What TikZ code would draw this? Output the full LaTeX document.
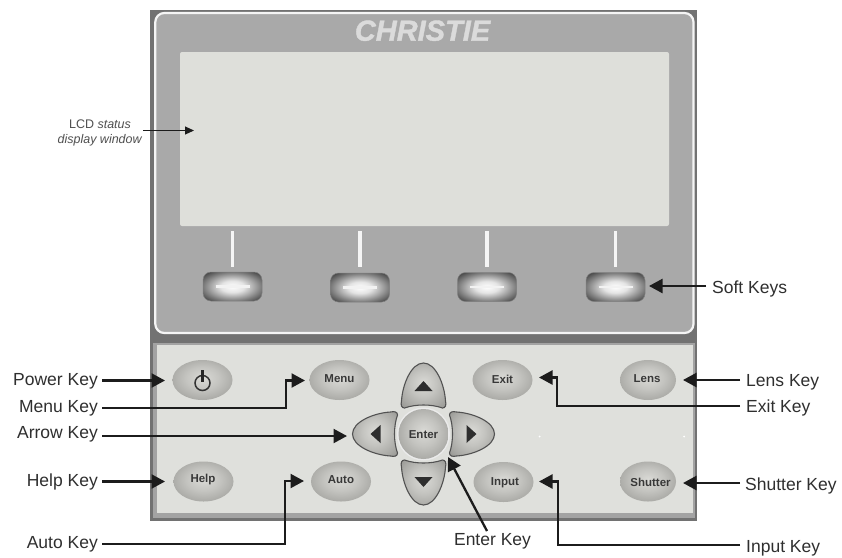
\documentclass[tikz,border=0pt]{standalone}
\usepackage{fontspec}
\setmainfont{Liberation Sans}
\newfontfamily\logofont{Liberation Sans}[BoldItalicFeatures={FakeBold=1.3}]
\usetikzlibrary{arrows.meta,calc}
\definecolor{panelgray}{HTML}{A9A9A9}
\definecolor{framegray}{HTML}{727272}
\definecolor{lcdgray}{HTML}{DEDFDA}
\definecolor{lowgray}{HTML}{DFE0DC}
\definecolor{inkdark}{HTML}{1C1C1C}
\definecolor{textdark}{HTML}{2F2F2F}
\definecolor{textsoft}{HTML}{505050}
\definecolor{ks0}{HTML}{DADAD6}
\definecolor{ks1}{HTML}{C4C4C0}
\definecolor{ks2}{HTML}{A9A9A5}
\definecolor{ks3}{HTML}{8E8E8A}
\definecolor{sk1}{HTML}{E4E4E4}
\definecolor{sk2}{HTML}{808080}
\definecolor{sk3}{HTML}{3A3A3A}
\pgfdeclareradialshading{keyshade}{\pgfpoint{0bp}{3bp}}{%
  color(0bp)=(ks0); color(14bp)=(ks1); color(27bp)=(ks2); color(38bp)=(ks3); color(50bp)=(ks3)}
\pgfdeclareradialshading{softshade}{\pgfpoint{0bp}{0bp}}{%
  color(0bp)=(white); color(10bp)=(sk1); color(24bp)=(sk2); color(34bp)=(sk3); color(50bp)=(sk3)}
\tikzset{
  x=1pt,y=-1pt,
  hwkey/.style={draw=none,shading=keyshade},
  softkey/.style={draw=black!50,line width=.5pt,rounded corners=8pt,shading=softshade},
  whitebar/.style={draw=white!96!black,line width=3.6pt},
  callout/.style={draw=inkdark,line width=2.3pt,-{Triangle[length=13.5pt,width=14pt]},line join=miter},
  thinptr/.style={draw=inkdark,line width=1pt,-{Triangle[length=9pt,width=8pt]}},
  labelL/.style={anchor=base east,inner sep=0pt,text=textdark,font=\fontsize{17.5}{19}\selectfont},
  labelR/.style={anchor=base west,inner sep=0pt,text=textdark,font=\fontsize{17.5}{19}\selectfont},
  keytext/.style={inner sep=0pt,text=black!78,font=\fontsize{11.5}{13}\selectfont\bfseries},
  glyph/.style={fill=black!82,draw=none},
  arrowkey/.style={draw=black!68,line width=1.1pt,shading=keyshade},
}
\newcommand{\arrowkeyshape}[1]{%
  \begin{scope}[shift={(423.5,434)},rotate=#1]
    \path[arrowkey] (-19,-26) .. controls (-8,-30) and (8,-30) .. (19,-26)
      .. controls (22,-26) and (23,-29) .. (22,-33)
      .. controls (21,-50) and (12,-71) .. (0,-71)
      .. controls (-12,-71) and (-21,-50) .. (-22,-33)
      .. controls (-23,-29) and (-22,-26) .. (-19,-26) -- cycle;
    \fill[glyph] (-9,-43) -- (9,-43) -- (0,-53) -- cycle;
  \end{scope}}
\begin{document}
\begin{tikzpicture}
\useasboundingbox (0,0) rectangle (842,557);
\fill[white] (0,0) rectangle (842,557);
% housing
\fill[framegray] (150,10) rectangle (697,345);
\filldraw[fill=panelgray,draw=white!96!black,line width=2.2pt,rounded corners=9pt] (155.3,13) rectangle (693.5,333);
\fill[framegray] (150,340) rectangle (697,521);
\fill[black!36] (153,343) rectangle (695,518);
\fill[lowgray] (157,345) rectangle (693,513);
% logo
\node[inner sep=0pt,text=white!86!black,font=\fontsize{29}{30}\logofont\selectfont\bfseries\itshape] (logo) at (422.5,30.7) {CHRISTIE};
% LCD
\fill[lcdgray,rounded corners=2pt] (180,52) rectangle (669,226);
% soft keys
\foreach \i/\cx/\cy in {1/232.5/286.5,2/360/287.5,3/487/287,4/615.5/287}{
  \draw[whitebar] (\cx,231) -- (\cx,267);
  \path[softkey] (\cx-29.5,\cy-14.5) rectangle (\cx+29.5,\cy+14.5);
  \draw[white!95!black,line width=2.6pt] (\cx-17,\cy) -- (\cx+17,\cy);
}
% hardware keys
\path[hwkey] (202.5,380) ellipse [x radius=30,y radius=20];
\path[hwkey] (339.5,380) ellipse [x radius=30,y radius=20];
\path[hwkey] (502.5,380) ellipse [x radius=30,y radius=20];
\path[hwkey] (648,380) ellipse [x radius=28,y radius=20];
\path[hwkey] (203.5,481.5) ellipse [x radius=30,y radius=20];
\path[hwkey] (341,481.5) ellipse [x radius=30,y radius=20];
\path[hwkey] (503.5,482) ellipse [x radius=30,y radius=20];
\path[hwkey] (648,481.5) ellipse [x radius=28,y radius=20];
\draw[black!80,line width=1.5pt] (202.5,383) circle (7.5);
\draw[black!85,line width=2.2pt] (202.5,370) -- (202.5,382);
\node[keytext] (kmenu) at (339.5,378.5) {Menu};
\node[keytext] (kexit) at (502.5,379.5) {Exit};
\node[keytext] (klens) at (647,379) {Lens};
\node[keytext] (khelp) at (203,480) {Help};
\node[keytext] (kauto) at (341,480) {Auto};
\node[keytext] (kinput) at (505,483) {Input};
\node[keytext] (kshutter) at (650.5,482) {Shutter};
% arrow keys
\arrowkeyshape{0}\arrowkeyshape{90}\arrowkeyshape{180}\arrowkeyshape{270}
\fill[white!92!black] (423.5,434) circle (26.5);
\path[hwkey] (423.5,434) circle (25);
\node[keytext] (kenter) at (423.5,435) {Enter};
% specks
\fill[white] (539.5,436.5) circle (1);
\fill[white] (684,436.5) circle (1);
% labels and callouts
\node[labelL] (lpower) at (98,385.5) {Power Key};
\node[labelL] (lmenu) at (98,412.7) {Menu Key};
\node[labelL] (larrow) at (98,438.5) {Arrow Key};
\node[labelL] (lhelp) at (98,486.7) {Help Key};
\node[labelL] (lauto) at (98,548) {Auto Key};
\node[labelR] (llens) at (746,386.7) {Lens Key};
\node[labelR] (lexit) at (746,412) {Exit Key};
\node[labelR] (lshutter) at (745,490.5) {Shutter Key};
\node[labelR] (linput) at (746,552.7) {Input Key};
\node[labelR] (lsoft) at (712,293.7) {Soft Keys};
\node[anchor=base,inner sep=0pt,text=textdark,font=\fontsize{17.5}{19}\selectfont] (lenter) at (492.5,545.7) {Enter Key};
\coordinate (tpower) at (165,380.5);
\coordinate (tmenu) at (305,380.5);
\coordinate (tarrow) at (347,436);
\coordinate (thelp) at (165,481.5);
\coordinate (tauto) at (304,481);
\coordinate (tlens) at (683,380);
\coordinate (texit) at (539,377.5);
\coordinate (tshutter) at (683,483);
\coordinate (tinput) at (539,481.5);
\coordinate (tsoft) at (649,286);
\coordinate (tenter) at (448,457);
\draw[callout] (lpower.east |- tpower) ++(4,0) -- (tpower);
\draw[callout] (102,408) -| (286,380.5) -- (tmenu);
\draw[callout] (102,436) -- (tarrow);
\draw[callout] (102,481.5) -- (thelp);
\draw[callout] (102,544) -| (285,481) -- (tauto);
\draw[callout] (740,380) -- (tlens);
\draw[callout] (740,406) -| (557,377.5) -- (texit);
\draw[callout] (740,483) -- (tshutter);
\draw[callout] (740,545) -| (558,481.5) -- (tinput);
\draw[callout] (706,286) -- (tsoft);
\draw[callout] (487,531) -- (tenter);
% LCD label
\node[inner sep=0pt,align=center,text=textsoft,font=\fontsize{12.5}{15}\selectfont] (llcd) at (100,132.5) {LCD \textit{status}\\\textit{display window}};
\coordinate (tlcd) at (194,130.5);
\draw[thinptr] (143,130.5) -- (tlcd);
\end{tikzpicture}
\end{document}
